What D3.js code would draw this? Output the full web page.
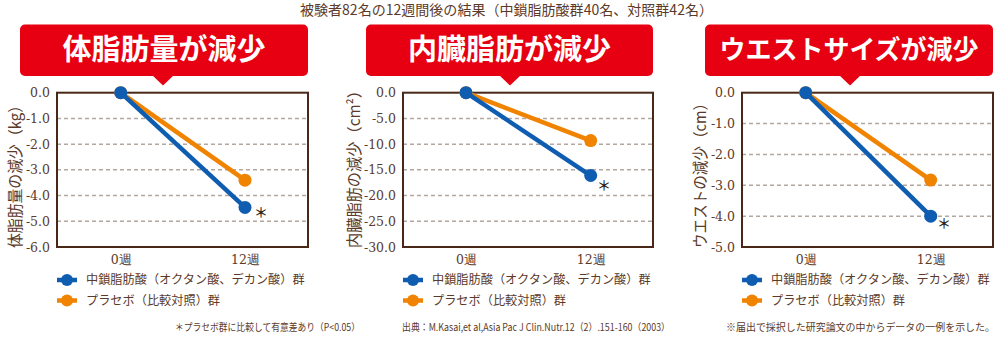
<!DOCTYPE html>
<html><head><meta charset="utf-8">
<script src="https://cdn.jsdelivr.net/npm/d3@7"></script>
<style>
html,body{margin:0;padding:0;background:#fff;}
svg{display:block;}
</style></head>
<body>
<svg id="c" width="1000" height="340"></svg>
<script>
// ---- data ----
const categories = ["0週", "12週"];
const panelTitles = ["体脂肪量が減少", "内臓脂肪が減少", "ウエストサイズが減少"];
const yTitles = ["体脂肪量の減少（kg）", "内臓脂肪の減少（cm²）", "ウエストの減少（cm）"];
const mctSeries = [[0, -4.46], [0, -16.1], [0, -4.0]];
const placeboSeries = [[0, -3.4], [0, -9.3], [0, -2.83]];
const yMins = [-6, -30, -5];
const yTicks = [
  [0, -1, -2, -3, -4, -5, -6],
  [0, -5, -10, -15, -20, -25, -30],
  [0, -1, -2, -3, -4, -5]
];
const legendLabels = ["中鎖脂肪酸（オクタン酸、デカン酸）群", "プラセボ（比較対照）群"];
const headline = "被験者82名の12週間後の結果（中鎖脂肪酸群40名、対照群42名）";
const footnotes = [
  "＊プラセボ群に比較して有意差あり（P<0.05）",
  "出典：M.Kasai,et al,Asia Pac J Clin.Nutr.12（2）.151-160（2003）",
  "※届出で採択した研究論文の中からデータの一例を示した。"
];

// ---- layout ----
const svg = d3.select("#c");
const BLUE = "#0f5db0", ORANGE = "#f08300", RED = "#e60012";
const BROWN = "#5b3a29", FRAME = "#4a2818";
const jp = "'Noto Sans CJK JP','Noto Sans',sans-serif";
const serif = "'DejaVu Serif','Liberation Serif',serif";

const panels = [
  {fx0: 57, fx1: 308, bx0: 20, bx1: 308, ptr: 163, px: [120.7, 245], ytx: 16, tfs: 29, ast: [261, 212], ytl: 150},
  {fx0: 403, fx1: 653, bx0: 366, bx1: 653, ptr: 510, px: [466, 590.7], ytx: 355, tfs: 29, ast: [604, 185], ytl: 165},
  {fx0: 742, fx1: 993, bx0: 705, bx1: 993, ptr: 850, px: [805.7, 930.7], ytx: 701, tfs: 26, ast: [944, 223], ytl: 152}
];
const fTop = 92.7, fBot = 247;

svg.append("text").attr("x", 506.5).attr("y", 10).attr("dy", "0.36em").attr("text-anchor", "middle")
  .attr("textLength", 413).attr("lengthAdjust", "spacingAndGlyphs")
  .style("font-family", jp).style("font-size", "14px").attr("fill", BROWN).text(headline);

panels.forEach((p, i) => {
  const g = svg.append("g");
  // header box
  g.append("rect").attr("x", p.bx0).attr("y", 24.5).attr("width", p.bx1 - p.bx0).attr("height", 51.5)
    .attr("rx", 5).attr("fill", RED);
  g.append("path").attr("d", `M${p.ptr - 11},75 L${p.ptr + 11},75 L${p.ptr},85.5 Z`).attr("fill", RED);
  g.append("text").attr("x", (p.bx0 + p.bx1) / 2).attr("y", 50).attr("dy", "0.36em")
    .attr("text-anchor", "middle").style("font-family", jp).style("font-weight", 700)
    .style("font-size", p.tfs + "px").attr("fill", "#fff").text(panelTitles[i]);

  const x = d3.scalePoint().domain(categories).range(p.px);
  const y = d3.scaleLinear().domain([yMins[i], 0]).range([fBot, fTop]);

  // grid
  g.selectAll(".grid").data(yTicks[i].filter(t => t !== 0 && t !== yMins[i])).join("line")
    .attr("x1", p.fx0).attr("x2", p.fx1).attr("y1", d => y(d)).attr("y2", d => y(d))
    .attr("stroke", "#b4a79f").attr("stroke-width", 1.5).attr("stroke-dasharray", "4,3");

  // y axis labels
  const yAxis = d3.axisLeft(y).tickValues(yTicks[i]).tickSize(0).tickPadding(7)
    .tickFormat(d => d === 0 ? "0.0" : d3.format(".1f")(d).replace("−", "-"));
  const ya = g.append("g").attr("transform", `translate(${p.fx0},0)`).call(yAxis)
    .attr("font-family", serif).attr("font-size", 12.5);
  ya.select(".domain").remove();
  ya.selectAll("text").style("font-family", serif).style("font-size", "12.5px").attr("fill", BROWN);

  // x axis labels
  const xAxis = d3.axisBottom(x).tickSize(0).tickPadding(8);
  const xa = g.append("g").attr("transform", `translate(0,${fBot})`).call(xAxis)
    .attr("font-family", serif).attr("font-size", 12.5);
  xa.select(".domain").remove();
  xa.selectAll("text").style("font-family", serif).style("font-size", "12.5px").attr("fill", BROWN);

  // frame
  g.append("rect").attr("x", p.fx0).attr("y", fTop).attr("width", p.fx1 - p.fx0).attr("height", fBot - fTop)
    .attr("fill", "none").attr("stroke", FRAME).attr("stroke-width", 2);

  // y title
  g.append("text").attr("transform", `translate(${p.ytx},${fBot + 1}) rotate(-90)`)
    .attr("dy", "0.35em").attr("textLength", p.ytl).attr("lengthAdjust", "spacingAndGlyphs")
    .style("font-family", jp).style("font-size", "15.5px").attr("fill", BROWN)
    .text(yTitles[i]);

  // lines
  const line = d3.line().x((d, k) => x(categories[k])).y(d => y(d));
  [[placeboSeries[i], ORANGE], [mctSeries[i], BLUE]].forEach(([vals, col]) => {
    g.append("path").datum(vals).attr("d", line).attr("fill", "none")
      .attr("stroke", col).attr("stroke-width", 4.5);
    g.selectAll(null).data(vals).join("circle")
      .attr("cx", (d, k) => x(categories[k])).attr("cy", d => y(d)).attr("r", 6.5).attr("fill", col);
  });

  // asterisk
  g.append("text").attr("x", p.ast[0]).attr("y", p.ast[1]).attr("dy", "0.36em").attr("text-anchor", "middle")
    .style("font-family", jp).style("font-size", "14px").style("font-weight", 500)
    .attr("fill", "#2a1a12").text("＊");

  // legend
  const lx = p.fx0;
  [BLUE, ORANGE].forEach((col, k) => {
    const ly = 280 + k * 20.5;
    g.append("line").attr("x1", lx).attr("x2", lx + 20).attr("y1", ly).attr("y2", ly)
      .attr("stroke", col).attr("stroke-width", 4.5);
    g.append("circle").attr("cx", lx + 10).attr("cy", ly).attr("r", 6).attr("fill", col);
    g.append("text").attr("x", lx + 29).attr("y", ly).attr("dy", "0.36em")
      .style("font-family", jp).style("font-size", "12.2px").attr("fill", BROWN).text(legendLabels[k]);
  });
});

// footnotes
const fnX = [[175, 185], [402, 268], [726, 269]];
footnotes.forEach((t, i) => {
  svg.append("text").attr("x", fnX[i][0]).attr("y", 327).attr("dy", "0.35em")
    .attr("textLength", fnX[i][1]).attr("lengthAdjust", "spacingAndGlyphs")
    .style("font-family", jp).style("font-size", "10px").attr("fill", BROWN).text(t);
});
</script>
</body></html>
